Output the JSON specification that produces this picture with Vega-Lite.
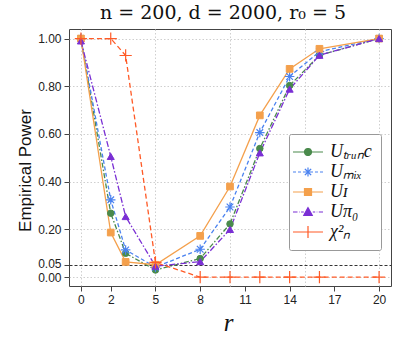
{
  "$schema": "https://vega.github.io/schema/vega-lite/v6.json",
  "autosize": {"type": "none"},
  "width": 322,
  "height": 257,
  "padding": {"left": 69, "top": 29, "right": 29, "bottom": 60},
  "background": "white",
  "title": {"text": "n = 200, d = 2000, r₀ = 5", "font": "DejaVu Serif", "fontSize": 19, "fontWeight": "normal", "anchor": "middle", "offset": 6, "dx": -7, "color": "#111"},
  "config": {
    "view": {"stroke": "#444", "strokeWidth": 1},
    "axis": {"domain": false, "tickColor": "#444", "tickSize": 5, "labelFont": "Liberation Sans", "labelFontSize": 12, "labelColor": "#222", "labelPadding": 3, "labelOverlap": false, "titleFontWeight": "normal", "titleColor": "#111"}
  },
  "data": {"values": [
    {"r": 0, "s": "trunc", "p": 1.0}, {"r": 2, "s": "trunc", "p": 0.268}, {"r": 3, "s": "trunc", "p": 0.10}, {"r": 5, "s": "trunc", "p": 0.03}, {"r": 8, "s": "trunc", "p": 0.078}, {"r": 10, "s": "trunc", "p": 0.223}, {"r": 12, "s": "trunc", "p": 0.539}, {"r": 14, "s": "trunc", "p": 0.803}, {"r": 16, "s": "trunc", "p": 0.93}, {"r": 20, "s": "trunc", "p": 1.0},
    {"r": 0, "s": "mix", "p": 1.0}, {"r": 2, "s": "mix", "p": 0.324}, {"r": 3, "s": "mix", "p": 0.114}, {"r": 5, "s": "mix", "p": 0.042}, {"r": 8, "s": "mix", "p": 0.117}, {"r": 10, "s": "mix", "p": 0.294}, {"r": 12, "s": "mix", "p": 0.606}, {"r": 14, "s": "mix", "p": 0.841}, {"r": 16, "s": "mix", "p": 0.945}, {"r": 20, "s": "mix", "p": 1.0},
    {"r": 0, "s": "I", "p": 1.0}, {"r": 2, "s": "I", "p": 0.187}, {"r": 3, "s": "I", "p": 0.064}, {"r": 5, "s": "I", "p": 0.052}, {"r": 8, "s": "I", "p": 0.173}, {"r": 10, "s": "I", "p": 0.38}, {"r": 12, "s": "I", "p": 0.678}, {"r": 14, "s": "I", "p": 0.873}, {"r": 16, "s": "I", "p": 0.957}, {"r": 20, "s": "I", "p": 1.0},
    {"r": 0, "s": "pi0", "p": 0.99}, {"r": 2, "s": "pi0", "p": 0.506}, {"r": 3, "s": "pi0", "p": 0.254}, {"r": 5, "s": "pi0", "p": 0.046}, {"r": 8, "s": "pi0", "p": 0.065}, {"r": 10, "s": "pi0", "p": 0.20}, {"r": 12, "s": "pi0", "p": 0.521}, {"r": 14, "s": "pi0", "p": 0.788}, {"r": 16, "s": "pi0", "p": 0.93}, {"r": 20, "s": "pi0", "p": 1.0},
    {"r": 0, "s": "chi2", "p": 1.0}, {"r": 2, "s": "chi2", "p": 1.0}, {"r": 3, "s": "chi2", "p": 0.929}, {"r": 5, "s": "chi2", "p": 0.062}, {"r": 8, "s": "chi2", "p": 0.0}, {"r": 10, "s": "chi2", "p": 0.0}, {"r": 12, "s": "chi2", "p": 0.0}, {"r": 14, "s": "chi2", "p": 0.0}, {"r": 16, "s": "chi2", "p": 0.0}, {"r": 20, "s": "chi2", "p": 0.0}
  ]},
  "encoding": {
    "x": {"field": "r", "type": "quantitative",
      "scale": {"domain": [-0.8, 20.8], "nice": false, "zero": false},
      "axis": {"values": [0, 2, 5, 8, 10, 11, 14, 15, 17, 20],
        "labelExpr": "datum.value === 10 || datum.value === 15 ? '' : datum.label",
        "tickOpacity": {"condition": {"test": "datum.value === 10 || datum.value === 15", "value": 0}, "value": 1},
        "grid": true, "gridColor": "#cfcfcf", "gridDash": [1.5, 2],
        "gridOpacity": {"condition": {"test": "datum.value % 5 === 0", "value": 1}, "value": 0},
        "title": "r", "titleFont": "Liberation Serif", "titleFontStyle": "italic", "titleFontSize": 25,
        "titleX": 159, "titleY": 36, "titleBaseline": "middle", "titleAlign": "center"}},
    "y": {"field": "p", "type": "quantitative",
      "scale": {"domain": [-0.037, 1.04], "nice": false, "zero": false},
      "axis": {"values": [0, 0.05, 0.2, 0.4, 0.6, 0.8, 1.0], "format": ".2f",
        "labelOffset": {"condition": {"test": "datum.value === 0.05", "value": -1.5}, "value": 0},
        "grid": true,
        "gridColor": {"condition": {"test": "datum.value === 0.05", "value": "#333"}, "value": "#cfcfcf"},
        "gridDash": {"condition": {"test": "datum.value === 0.05", "value": [3, 2]}, "value": [1.5, 2]},
        "title": "Empirical Power", "titleFont": "Liberation Sans", "titleFontSize": 17,
        "titleAngle": -90, "titleX": -44, "titleY": 141, "titleBaseline": "middle", "titleAlign": "center"}}
  },
  "layer": [
    {
      "transform": [{"filter": "datum.s === 'trunc'"}],
      "mark": {"type": "line", "strokeWidth": 1.3, "strokeDash": [5, 2, 1.5, 2]},
      "encoding": {
        "color": {"field": "s", "type": "nominal",
          "scale": {"domain": ["trunc", "mix", "I", "pi0", "chi2"], "range": ["#4a8a4c", "#4a82f0", "#f4a04c", "#7a2fd4", "#ff5a26"]},
          "legend": {"title": null, "orient": "none", "legendX": 220, "legendY": 105,
            "fillColor": "white", "strokeColor": "#999", "padding": 9, "cornerRadius": 2,
            "symbolSize": 36, "symbolStrokeWidth": 1.2, "symbolOffset": 1, "labelOffset": 13,
            "rowPadding": 2, "labelFont": "Liberation Serif", "labelFontStyle": "italic", "labelFontSize": 18, "labelColor": "#111",
            "labelExpr": "datum.label === 'trunc' ? 'Uₜᵣᵤₙc  ' : datum.label === 'mix' ? 'Uₘᵢₓ' : datum.label === 'I' ? 'Uɪ' : datum.label === 'pi0' ? 'Uπ₀' : 'χ²ₙ'",
            "encode": {"symbols": {"update": {
              "shape": {"signal": "datum.value === 'trunc' ? 'M-5,0L-1.17,0M1.17,0L5,0M-1.17,0A1.17,1.17,0,1,1,1.17,0A1.17,1.17,0,1,1,-1.17,0Z' : datum.value === 'mix' ? 'M-5,0L-4,0M-3.33,0L-2.33,0M-1.67,0L-0.67,0M0.67,0L1.67,0M2.33,0L3.33,0M4,0L5,0M-1.5,0L1.5,0M0,-1.5L0,1.5M-1.06,-1.06L1.06,1.06M-1.06,1.06L1.06,-1.06' : datum.value === 'I' ? 'M-5,0L-1.17,0M1.17,0L5,0M-1.17,-1.17L1.17,-1.17L1.17,1.17L-1.17,1.17Z' : datum.value === 'pi0' ? 'M-5,0L-3.5,0M-3,0L-2.8,0M-2.3,0L-1.4,0M1.6,0L2.4,0M2.9,0L3.1,0M3.6,0L5,0M0,-1.45L1.4,1.1L-1.4,1.1Z' : 'M-5,0L5,0M0,-2L0,2'"},
              "size": {"value": 36},
              "fill": {"signal": "scale('color', datum.value)"},
              "stroke": {"signal": "scale('color', datum.value)"},
              "strokeDash": {"value": [1, 0]},
              "strokeWidth": {"value": 1.2},
              "opacity": {"value": 1}
            }}}}}
      }
    },
    {
      "transform": [{"filter": "datum.s === 'mix'"}],
      "mark": {"type": "line", "strokeWidth": 1.3, "strokeDash": [4, 2.5]},
      "encoding": {"color": {"field": "s", "type": "nominal"}}
    },
    {
      "transform": [{"filter": "datum.s === 'I'"}],
      "mark": {"type": "line", "strokeWidth": 1.3},
      "encoding": {"color": {"field": "s", "type": "nominal"}}
    },
    {
      "transform": [{"filter": "datum.s === 'pi0'"}],
      "mark": {"type": "line", "strokeWidth": 1.3, "strokeDash": [6, 2, 1.5, 2]},
      "encoding": {"color": {"field": "s", "type": "nominal"}}
    },
    {
      "transform": [{"filter": "datum.s === 'chi2'"}],
      "mark": {"type": "line", "strokeWidth": 1.3, "strokeDash": [5, 3]},
      "encoding": {"color": {"field": "s", "type": "nominal"}}
    },
    {
      "transform": [{"filter": "datum.s === 'trunc'"}],
      "mark": {"type": "point", "shape": "circle", "size": 42, "filled": true, "opacity": 1, "fill": "#4a8a4c", "stroke": "#4a8a4c", "strokeWidth": 1}
    },
    {
      "transform": [{"filter": "datum.s === 'mix'"}],
      "mark": {"type": "point", "shape": "M-1,0L1,0M0,-1L0,1M-0.7,-0.7L0.7,0.7M-0.7,0.7L0.7,-0.7", "size": 90, "filled": true, "opacity": 1, "fill": "#4a82f0", "stroke": "#4a82f0", "strokeWidth": 1.2}
    },
    {
      "transform": [{"filter": "datum.s === 'I'"}],
      "mark": {"type": "point", "shape": "square", "size": 45, "filled": true, "opacity": 1, "fill": "#f4a04c", "stroke": "#f4a04c", "strokeWidth": 1}
    },
    {
      "transform": [{"filter": "datum.s === 'pi0'"}],
      "mark": {"type": "point", "shape": "triangle-up", "size": 50, "filled": true, "opacity": 1, "fill": "#7a2fd4", "stroke": "#7a2fd4", "strokeWidth": 1}
    },
    {
      "transform": [{"filter": "datum.s === 'chi2'"}],
      "mark": {"type": "point", "shape": "M-1,0L1,0M0,-1L0,1", "size": 150, "filled": true, "opacity": 1, "fill": "#ff5a26", "stroke": "#ff5a26", "strokeWidth": 1.2}
    }
  ]
}
